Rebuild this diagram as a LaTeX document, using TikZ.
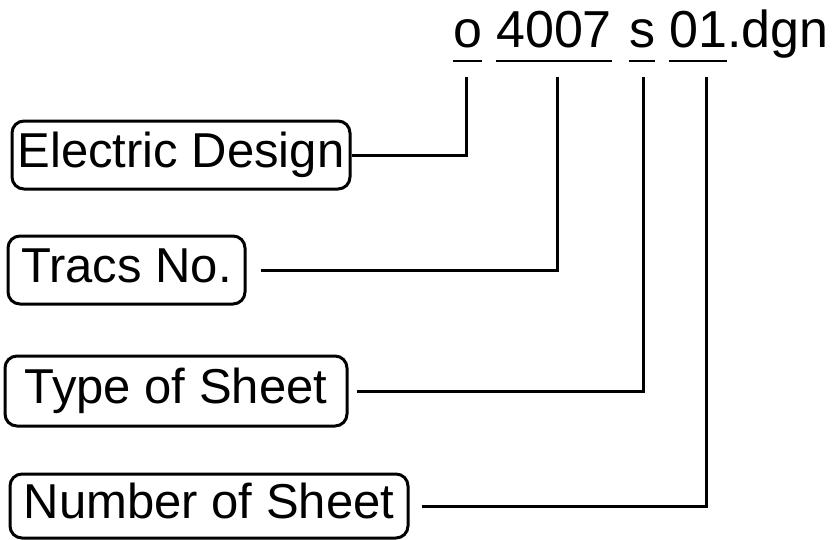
\documentclass[tikz,border=0pt]{standalone}
\usepackage{fontspec}
\setmainfont{Liberation Sans}
\begin{document}
\begin{tikzpicture}[x=1pt,y=-1pt,
  lbl/.style={draw, line width=3pt, rounded corners=12pt, inner sep=0pt,
    font=\fontsize{49}{55}\selectfont, text height=35pt, text depth=10pt},
  ttl/.style={anchor=base west, inner sep=0pt, font=\fontsize{52}{58}\selectfont},
  conn/.style={line width=3pt},
  ul/.style={line width=2pt}]
\useasboundingbox (0,0) rectangle (833,539);
% title parts
\node[ttl] (o)   at (453,47) {o};
\node[ttl] (num) at (496,47) {4007};
\node[ttl] (s)   at (629,47) {s};
\node[ttl] (sh)  at (669,47) {01};
\node[ttl] (ext) at (727,47) {.dgn};
\foreach \n in {o,num,s,sh}
  \draw[ul] ([yshift=-14pt]\n.base west) -- ([yshift=-14pt]\n.base east);
% label boxes
\node[lbl, minimum width=338pt, minimum height=68pt] (ed) at (181,155) {Electric Design};
\node[lbl, minimum width=237pt, minimum height=68pt] (tr) at (126.5,270) {Tracs No.};
\node[lbl, minimum width=342pt, minimum height=70pt] (ty) at (176,391) {Type of Sheet};
\node[lbl, minimum width=398pt, minimum height=64pt] (nu) at (209,506) {Number of Sheet};
% connector tops
\coordinate (to) at (466,77);
\coordinate (tn) at (557,77);
\coordinate (ts) at (643,77);
\coordinate (th) at (706,77);
\draw[conn] (ed.east) -| (to);
\draw[conn] ([xshift=14pt]tr.east) -| (tn);
\draw[conn] ([xshift=8pt]ty.east) -| (ts);
\draw[conn] ([xshift=12pt]nu.east) -| (th);
\end{tikzpicture}
\end{document}
